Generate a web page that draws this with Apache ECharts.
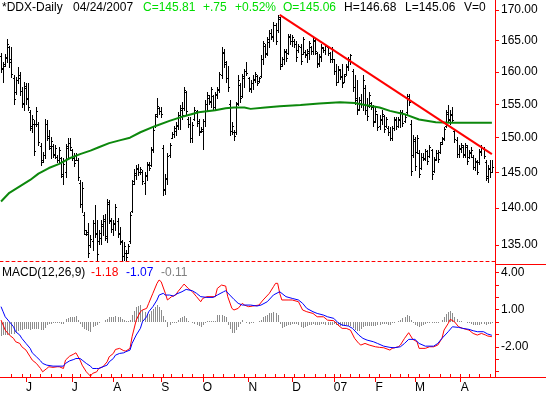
<!DOCTYPE html>
<html><head><meta charset="utf-8">
<script src="https://cdn.jsdelivr.net/npm/echarts@6/dist/echarts.min.js"></script>
<style>html,body{margin:0;padding:0;background:#fff;}#c{width:546px;height:394px;}</style>
</head><body><div id="c"></div>
<script>
// ---- data ----
const symbol = '*DDX-Daily';
const monthKeys = ['2006-05','2006-06','2006-07','2006-08','2006-09','2006-10','2006-11','2006-12','2007-01','2007-02','2007-03','2007-04'];
const monthDays = [
[15,16,17,18,19,22,23,24,25,26,30,31],
[1,2,5,6,7,8,9,12,13,14,15,16,19,20,21,22,23,26,27,28,29,30],
[3,5,6,7,10,11,12,13,14,17,18,19,20,21,24,25,26,27,28,31],
[1,2,3,4,7,8,9,10,11,14,15,16,17,18,21,22,23,24,25,28,29,30,31],
[1,5,6,7,8,11,12,13,14,15,18,19,20,21,22,25,26,27,28,29],
[2,3,4,5,6,9,10,11,12,13,16,17,18,19,20,23,24,25,26,27,30,31],
[1,2,3,6,7,8,9,10,13,14,15,16,17,20,21,22,24,27,28,29,30],
[1,4,5,6,7,8,11,12,13,14,15,18,19,20,21,22,26,27,28,29],
[3,4,5,8,9,10,11,12,16,17,18,19,22,23,24,25,26,29,30,31],
[1,2,5,6,7,8,9,12,13,14,15,16,20,21,22,23,26,27,28],
[1,2,5,6,7,8,9,12,13,14,15,16,19,20,21,22,23,26,27,28,29,30],
[2,3,4,5,9,10,11,12,13,16,17,18,19,20,23,24]
];
const opens = [
162.5,160.5,161.2,162.2,164.0,162.0,159.0,156.8,158.8,159.5,
157.0,155.0,157.5,156.0,153.8,151.5,152.0,152.0,152.0,148.8,
146.7,147.5,152.0,150.2,148.5,148.8,147.5,147.2,146.8,147.0,
144.5,145.0,148.5,149.2,148.2,147.0,146.8,146.8,143.5,140.5,
139.0,136.5,136.5,135.0,135.5,138.0,136.5,135.5,136.0,137.5,
138.5,136.0,140.5,138.2,137.2,137.8,138.2,136.6,135.4,133.6,
134.0,134.0,135.5,139.6,143.8,144.6,145.4,145.0,145.0,143.5,
144.4,146.0,146.0,148.2,151.8,153.5,154.4,154.0,148.5,142.6,
144.0,147.5,150.0,150.5,151.0,151.8,153.0,154.2,154.5,156.8,
152.8,152.0,150.0,152.8,154.0,152.4,151.0,151.0,152.4,155.0,
156.0,155.4,156.2,154.6,156.4,157.2,159.5,163.0,161.3,159.0,
155.0,151.0,150.8,150.8,155.2,158.0,156.3,159.0,160.2,159.0,
157.3,158.3,158.8,159.3,158.6,159.4,162.0,164.2,163.0,164.8,
166.2,165.6,167.5,166.8,168.5,161.2,162.0,163.2,163.0,165.5,
165.0,165.0,164.5,163.4,164.0,162.8,163.2,162.6,163.0,164.0,
163.3,165.0,163.0,161.4,162.4,163.8,163.4,164.0,163.0,162.0,
162.0,160.2,158.5,160.3,159.2,158.5,159.6,160.8,162.0,160.2,
157.6,156.0,154.3,155.6,155.0,157.5,154.2,154.8,155.2,154.6,
152.5,153.5,151.8,152.6,153.2,151.8,151.5,150.8,150.0,151.4,
152.6,151.8,152.6,153.8,152.4,153.8,156.0,152.0,147.5,149.5,
147.9,147.8,145.6,147.2,146.9,148.0,147.3,148.2,145.2,146.9,
147.8,147.9,149.3,149.8,151.8,153.6,152.6,153.4,151.0,149.6,
147.6,148.4,148.6,147.6,148.6,147.2,147.8,147.2,145.8,146.4,
146.4,147.9,148.4,146.5,144.2,145.4,145.06];
const highs = [
163.0,161.6,162.8,165.2,164.2,164.0,159.5,159.2,160.8,160.0,
157.7,158.4,158.2,158.2,154.1,153.3,152.6,154.6,152.3,149.2,
147.9,152.8,152.6,151.1,150.1,149.1,148.9,147.4,148.6,147.2,
147.0,149.1,149.9,149.9,148.4,147.7,147.7,147.0,143.9,143.6,
139.5,137.0,137.9,136.3,138.3,140.4,138.3,137.0,138.3,139.0,
139.2,141.3,141.1,138.6,138.3,140.6,138.6,137.4,135.7,135.4,
134.3,135.2,139.4,143.9,145.5,146.0,146.2,145.8,145.3,145.0,
146.5,146.5,148.6,151.6,153.6,155.9,154.6,154.6,148.9,144.8,
147.7,149.2,150.9,151.8,152.3,153.8,154.9,155.4,157.7,157.1,
153.1,153.1,152.3,154.6,154.1,152.8,151.6,152.8,155.6,156.9,
156.4,157.7,156.4,156.9,157.7,160.0,164.0,163.7,161.8,161.0,
155.6,152.3,151.1,155.4,159.5,158.2,159.7,160.5,161.6,159.2,
158.7,159.5,160.0,159.5,159.2,162.6,165.0,164.5,165.6,166.7,
166.9,168.0,167.8,169.2,168.9,162.4,163.7,163.7,166.1,166.1,
165.9,165.3,165.0,164.5,164.5,165.6,163.4,163.7,165.0,164.2,
165.6,165.3,163.2,162.9,164.5,164.0,164.5,164.0,163.2,164.0,
162.1,161.3,161.0,160.5,161.3,159.7,161.3,162.4,162.9,160.5,
159.5,158.7,156.1,156.6,159.5,157.9,155.9,156.9,155.4,154.9,
154.6,153.6,153.3,154.1,153.3,153.1,151.8,151.6,151.8,153.1,
153.1,153.1,154.1,154.1,153.3,156.6,156.6,152.6,150.4,150.1,
150.4,148.2,147.7,147.7,148.4,148.2,148.9,148.4,147.2,148.2,
148.2,149.4,150.1,151.6,154.1,154.9,154.1,154.6,151.3,150.1,
148.9,149.2,148.9,149.2,148.9,148.2,148.6,147.4,147.0,146.7,
148.4,148.9,148.6,146.7,146.0,146.7,146.68];
const lows = [
160.0,158.4,160.9,161.6,160.8,159.2,155.1,156.6,158.2,156.4,
154.6,154.1,155.1,154.1,151.1,150.9,147.4,151.8,148.9,146.0,
146.5,147.0,149.6,148.4,147.0,147.2,147.0,146.5,146.5,144.3,
143.3,144.3,147.0,148.2,146.7,145.9,146.7,143.9,140.2,139.5,
136.5,136.3,133.4,134.8,134.3,136.1,133.0,135.2,135.2,136.3,
135.7,135.4,137.9,136.8,136.3,137.0,136.1,135.2,133.0,133.0,
133.0,133.9,135.3,139.4,143.4,144.1,144.6,144.8,143.4,142.0,
143.9,145.3,145.9,147.9,151.6,153.1,153.6,153.1,141.8,142.0,
143.4,147.2,149.9,150.1,150.4,151.3,151.3,152.8,154.1,153.6,
151.6,149.4,149.4,152.6,151.8,150.4,150.9,148.4,151.8,154.1,
155.1,154.6,154.1,154.1,155.9,156.9,159.0,160.8,158.4,157.1,
150.4,150.6,149.6,150.6,154.9,155.4,156.1,157.7,159.5,157.1,
156.9,157.4,158.4,157.9,158.4,159.2,161.3,162.4,162.6,164.0,
165.3,165.0,164.5,166.4,160.5,161.0,161.3,161.8,162.9,164.5,
164.2,164.0,161.8,163.2,161.3,162.9,162.4,161.6,162.1,162.9,
162.9,162.9,160.8,161.0,161.8,163.2,162.9,162.6,161.6,161.6,
159.7,157.9,158.4,158.9,157.7,158.4,159.5,160.3,161.3,157.1,
155.1,153.6,154.1,154.6,154.1,153.6,152.6,154.6,154.3,151.8,
152.3,151.1,151.3,152.1,150.9,151.6,150.4,149.6,149.6,151.1,
151.3,151.6,151.6,151.8,152.3,153.6,154.9,144.6,147.2,145.3,
147.7,144.3,145.5,146.7,146.7,146.2,147.2,144.1,145.0,146.7,
146.5,147.7,149.1,149.6,151.6,152.3,152.1,152.3,149.4,147.2,
147.2,147.9,147.2,147.2,146.2,147.0,147.2,145.5,145.3,144.8,
146.2,147.4,147.0,143.9,143.6,144.3,145.06];
const closes = [
160.6,161.0,162.4,164.5,161.5,159.6,155.8,158.8,159.0,157.0,
155.2,157.8,155.8,154.6,151.8,152.8,148.0,154.0,149.3,146.4,
147.5,152.0,150.0,148.8,149.5,147.6,148.5,146.8,148.2,144.8,
146.2,148.8,149.2,148.6,147.0,146.3,147.4,144.3,140.6,142.8,
137.0,136.8,134.0,135.8,137.9,136.6,133.8,136.6,137.8,138.2,
136.2,140.8,138.3,137.2,137.9,140.1,136.5,135.6,133.5,134.9,
133.4,134.9,139.0,143.4,144.9,145.6,145.0,145.5,143.8,144.6,
146.2,145.6,148.3,151.2,153.2,154.8,154.0,153.5,142.5,144.2,
147.3,148.9,150.6,151.4,151.9,153.4,154.4,153.4,157.2,154.0,
152.0,149.9,151.9,154.2,152.2,150.9,151.3,152.4,155.0,156.4,
155.5,157.3,154.6,156.5,157.3,159.7,163.2,161.5,159.0,157.6,
151.0,151.8,150.3,155.0,158.8,155.9,159.3,160.2,159.9,157.5,
158.3,158.9,159.6,158.3,159.0,162.0,164.6,162.8,165.2,166.3,
165.7,167.6,165.0,168.8,161.0,162.0,163.3,162.2,165.7,164.9,
165.5,164.4,162.3,164.2,161.8,165.2,162.8,163.3,164.6,163.3,
165.1,163.3,161.3,162.5,164.0,163.5,164.1,163.0,162.0,163.6,
160.2,158.4,160.5,159.3,158.2,159.3,160.9,162.0,162.6,157.6,
155.6,154.2,155.7,155.0,158.8,154.2,153.2,156.4,154.6,152.3,
154.0,151.6,152.8,153.6,151.3,152.7,150.8,150.0,151.4,152.7,
151.7,152.8,153.7,152.2,153.0,156.2,155.3,145.2,149.8,145.9,
149.9,144.8,147.2,147.0,148.0,146.6,148.6,144.8,146.8,147.8,
146.9,149.1,149.9,151.3,153.8,152.8,153.6,152.6,149.8,147.6,
148.5,148.9,147.5,148.9,146.6,147.9,148.2,145.8,146.6,145.1,
148.0,148.5,147.3,144.4,145.6,145.06,145.81];
// moving average read at points [bar index, value]
const maPoints = [[0,140.9],[4,142.1],[9,143.0],[14,143.9],[18,144.8],[23,145.6],[28,146.2],[33,147.0],[38,147.6],[43,148.1],[47,148.6],[52,149.2],[57,149.6],[62,150.0],[67,150.8],[74,151.7],[81,152.5],[88,153.2],[95,153.8],[103,154.1],[108,154.4],[112,154.5],[117,154.5],[120,154.3],[127,154.5],[134,154.7],[144,154.9],[153,155.1],[163,155.3],[170,155.2],[175,154.9],[182,154.5],[187,154.0],[194,153.5],[201,152.7],[209,152.3],[216,152.2],[226,152.2],[236,152.2]];
const trendPoints = [[134,169.2],[236,147.6]];
const macdPoints = [[0,0.16],[1,-0.24],[2,-0.65],[4,-1.05],[6,-1.32],[7,-1.59],[9,-1.73],[10,-2.0],[12,-2.27],[14,-2.81],[15,-3.08],[17,-3.35],[19,-3.76],[20,-4.03],[22,-3.76],[23,-3.62],[25,-3.67],[27,-3.62],[28,-3.62],[30,-3.76],[31,-3.08],[33,-2.76],[35,-2.59],[36,-2.49],[38,-3.08],[39,-3.49],[41,-4.03],[43,-4.38],[44,-4.16],[46,-4.03],[47,-3.76],[49,-3.62],[51,-3.22],[52,-2.81],[54,-2.54],[55,-2.22],[57,-2.13],[59,-2.32],[60,-2.35],[62,-2.13],[63,-1.19],[65,0.16],[67,0.84],[68,0.98],[70,1.11],[71,1.52],[73,2.33],[75,3.14],[76,3.41],[77,3.27],[79,2.33],[80,1.79],[82,2.06],[84,2.19],[85,2.46],[87,2.87],[88,3.08],[90,2.73],[92,2.46],[94,2.06],[96,1.65],[97,1.92],[99,2.06],[100,2.06],[103,2.06],[104,2.73],[106,3.0],[108,2.92],[109,2.06],[111,1.11],[112,0.98],[114,1.11],[116,1.52],[117,1.38],[119,1.25],[121,1.30],[124,1.38],[126,1.79],[129,2.33],[131,2.87],[132,3.14],[133,3.14],[134,2.33],[135,1.79],[138,1.79],[140,1.79],[143,1.65],[145,0.98],[147,0.84],[150,0.70],[152,0.43],[155,0.43],[157,0.16],[160,0.11],[162,-0.24],[164,-0.51],[166,-0.51],[168,-0.65],[170,-1.32],[172,-1.73],[173,-1.86],[175,-1.73],[177,-1.86],[180,-2.0],[182,-2.05],[184,-2.08],[187,-2.27],[188,-2.13],[191,-2.0],[192,-1.86],[194,-1.32],[196,-0.86],[198,-1.40],[200,-1.59],[201,-2.13],[204,-2.13],[206,-2.0],[208,-2.0],[210,-1.86],[212,-1.32],[213,-0.65],[215,-0.11],[216,0.22],[218,0.03],[220,-0.38],[222,-0.51],[225,-0.65],[227,-0.92],[229,-1.05],[231,-0.92],[233,-1.05],[234,-1.13],[236,-1.18]];
const signalPoints = [[0,1.25],[1,0.84],[2,0.43],[4,0.03],[6,-0.38],[7,-0.78],[9,-1.05],[10,-1.32],[12,-1.73],[14,-2.13],[15,-2.49],[17,-2.81],[19,-3.14],[20,-3.35],[22,-3.49],[25,-3.57],[30,-3.57],[31,-3.35],[33,-3.14],[35,-3.03],[36,-2.95],[38,-2.95],[39,-3.08],[41,-3.35],[43,-3.57],[44,-3.76],[46,-3.76],[47,-3.76],[49,-3.62],[51,-3.49],[52,-3.22],[54,-2.95],[55,-2.68],[57,-2.54],[59,-2.49],[60,-2.40],[62,-2.27],[63,-1.73],[65,-1.05],[67,-0.51],[68,0.03],[70,0.43],[71,0.84],[73,1.25],[75,1.79],[76,2.19],[78,2.33],[79,2.19],[81,2.19],[83,2.11],[84,2.25],[87,2.46],[89,2.65],[92,2.54],[94,2.33],[96,2.06],[99,2.0],[102,2.0],[104,2.19],[107,2.46],[108,2.54],[110,2.19],[112,1.84],[114,1.52],[116,1.38],[120,1.38],[123,1.30],[125,1.38],[128,1.65],[131,2.2],[134,2.46],[137,2.06],[140,1.92],[143,1.79],[145,1.52],[147,1.11],[150,0.84],[152,0.70],[155,0.57],[157,0.43],[160,0.30],[162,-0.05],[164,-0.24],[167,-0.32],[169,-0.51],[172,-1.05],[174,-1.32],[176,-1.46],[179,-1.59],[181,-1.73],[184,-1.95],[187,-2.05],[189,-2.08],[192,-2.0],[194,-1.73],[196,-1.40],[199,-1.40],[201,-1.73],[204,-1.95],[208,-1.95],[210,-1.73],[212,-1.32],[215,-0.78],[217,-0.38],[220,-0.43],[222,-0.51],[225,-0.59],[227,-0.70],[229,-0.78],[232,-0.78],[234,-0.97],[236,-1.07]];
const histValues = [
-1.10,-1.08,-1.08,-1.08,-1.08,-1.0,-0.94,-0.81,-0.72,-0.68,
-0.68,-0.6,-0.54,-0.6,-0.68,-0.59,-0.56,-0.54,-0.58,-0.62,
-0.68,-0.45,-0.27,-0.15,-0.12,-0.1,-0.06,-0.05,-0.05,-0.12,
-0.19,0.27,0.33,0.38,0.42,0.44,0.46,0.15,-0.13,-0.41,
-0.55,-0.68,-0.75,-0.81,-0.4,-0.33,-0.27,-0.05,0,0,
0.15,0.27,0.41,0.41,0.41,0.46,0.44,0.41,0.28,0.17,
0.05,0.1,0.14,0.54,0.9,1.21,1.3,1.35,0.95,0.8,
0.68,0.68,0.9,1.08,1.2,1.35,1.22,1.0,0.5,0.14,
-0.4,-0.25,-0.1,-0.08,-0.06,0.2,0.3,0.41,0.5,0.3,
0.1,0,-0.08,-0.18,-0.27,-0.35,-0.41,-0.2,-0.05,0.06,
0.06,0.06,0.06,0.06,0.54,0.58,0.6,0.5,0.38,-0.2,
-0.6,-0.9,-0.86,-0.65,-0.41,-0.15,0.14,0,-0.07,-0.13,
-0.1,-0.08,-0.03,0.02,0.05,0.2,0.4,0.5,0.6,0.7,
0.75,0.8,0.75,0.6,-0.13,-0.45,-0.4,-0.3,-0.25,-0.2,
-0.15,-0.15,-0.15,-0.2,-0.4,-0.5,-0.4,-0.3,-0.25,-0.2,
-0.15,-0.2,-0.27,-0.2,-0.15,-0.15,-0.2,-0.27,-0.25,-0.2,
-0.19,-0.2,-0.25,-0.3,-0.35,-0.3,-0.25,-0.3,-0.35,-0.5,
-0.65,-0.75,-0.7,-0.6,-0.4,-0.3,-0.3,-0.35,-0.35,-0.35,
-0.3,-0.25,-0.2,-0.15,-0.13,-0.15,-0.2,-0.2,-0.1,-0.05,
0,0.05,0.15,0.3,0.45,0.55,0.5,0.2,-0.1,-0.25,
-0.35,-0.4,-0.3,-0.25,-0.18,-0.1,-0.05,-0.05,-0.05,-0.1,
-0.1,0,0.2,0.45,0.65,0.8,0.9,0.7,0.45,0.25,
0.1,0.05,0,-0.03,-0.05,-0.08,-0.15,-0.22,-0.25,-0.27,
-0.2,-0.14,-0.17,-0.2,-0.16,-0.13,-0.11];
const priceTicks = [135,140,145,150,155,160,165,170];
const macdTicks = [-4,-3,-2,-1,0,1,2,3,4];
const macdLabelValues = [4,1,-2];
const monthLetters = ['J','F','M','A','M','J','J','A','S','O','N','D'];

// ---- build ----
const dates = [];
monthKeys.forEach((k, mi) => monthDays[mi].forEach(d => dates.push(k + '-' + String(d).padStart(2, '0'))));
const categories = dates.concat(['']);
const monthStart = new Set(), weekStart = new Set();
for (let i = 1; i < dates.length; i++) {
  if (dates[i].slice(0, 7) !== dates[i - 1].slice(0, 7)) monthStart.add(i);
  const a = new Date(dates[i - 1] + 'T00:00:00Z'), b = new Date(dates[i] + 'T00:00:00Z');
  if (b.getUTCDay() <= a.getUTCDay() || (b - a) >= 7 * 864e5) weekStart.add(i);
}
const ohlc = dates.map((d, i) => [i, opens[i], highs[i], lows[i], closes[i]]);
const hist = histValues.map((v, i) => [i, v]);

const last = dates.length - 1;
const chg = closes[last] - closes[last - 1];
const sgn = chg >= 0 ? '+' : '-';
const chgText = sgn + Math.abs(chg).toFixed(2).replace(/^0/, '');
const pctText = sgn + Math.abs(chg / closes[last - 1] * 100).toFixed(2) + '%';
const ld = dates[last].split('-');
const dateText = ld[1] + '/' + ld[2] + '/' + ld[0];

const FONT = '"Liberation Sans", Arial, sans-serif';
const RED = '#ff0000';
const GREEN_TXT = '#00dd00';

function txt(text, x, y, fill) {
  return { type: 'text', x: x, y: y, silent: true,
    style: { text: text, fill: fill, fontSize: 12, fontFamily: FONT, verticalAlign: 'middle' } };
}

const chart = echarts.init(document.getElementById('c'), null, { renderer: 'canvas' });
chart.setOption({
  animation: false,
  backgroundColor: '#ffffff',
  textStyle: { fontFamily: FONT },
  grid: [
    { left: 0, top: 0, width: 495, height: 261 },
    { left: 0, top: 261, width: 495, height: 116 }
  ],
  xAxis: [
    { type: 'category', gridIndex: 0, data: categories, boundaryGap: true, position: 'bottom',
      axisLine: { onZero: false, lineStyle: { color: RED, width: 1, type: [3, 3] } },
      axisTick: { show: false }, axisLabel: { show: false }, splitLine: { show: false } },
    { type: 'category', gridIndex: 1, data: categories, boundaryGap: true, position: 'bottom',
      axisLine: { onZero: false, lineStyle: { color: RED, width: 1 } },
      axisTick: { show: true, alignWithLabel: true, length: 5, lineStyle: { color: RED },
        interval: (i) => monthStart.has(i) },
      axisLabel: { show: true, interval: (i) => monthStart.has(i), align: 'left', margin: 5,
        color: '#000', fontSize: 12, fontFamily: FONT,
        formatter: (v) => { if (!v) return ''; const m = +v.slice(5, 7) - 1; return m === 0 ? v.slice(2, 4) : monthLetters[m]; } },
      splitLine: { show: false } },
    { type: 'category', gridIndex: 1, data: categories, boundaryGap: true, position: 'bottom',
      axisLine: { show: false, onZero: false },
      axisTick: { show: true, inside: true, alignWithLabel: true, length: 3, lineStyle: { color: RED },
        interval: (i) => weekStart.has(i) },
      axisLabel: { show: false }, splitLine: { show: false } }
  ],
  yAxis: [
    { type: 'log', gridIndex: 0, position: 'right', min: 132.9, max: 171.7,
      axisLine: { show: true, onZero: false, lineStyle: { color: RED } },
      axisTick: { show: true, length: 4, lineStyle: { color: RED }, customValues: priceTicks },
      axisLabel: { show: true, customValues: priceTicks, margin: 6, color: '#000', fontSize: 12, fontFamily: FONT,
        formatter: (v) => Number(v).toFixed(2) },
      splitLine: { show: false } },
    { type: 'value', gridIndex: 1, position: 'right', min: -4.45, max: 4.95,
      axisLine: { show: true, onZero: false, lineStyle: { color: RED } },
      axisTick: { show: true, length: 4, lineStyle: { color: RED }, customValues: macdTicks },
      axisLabel: { show: true, customValues: macdLabelValues, margin: 6, color: '#000', fontSize: 12, fontFamily: FONT,
        formatter: (v) => Number(v).toFixed(2) },
      splitLine: { show: false } }
  ],
  series: [
    { type: 'custom', name: 'DDX', xAxisIndex: 0, yAxisIndex: 0, silent: true, clip: true,
      encode: { x: 0, y: [1, 2, 3, 4] }, data: ohlc,
      renderItem: function (params, api) {
        const i = api.value(0);
        const pO = api.coord([i, api.value(1)]);
        const pH = api.coord([i, api.value(2)]);
        const pL = api.coord([i, api.value(3)]);
        const pC = api.coord([i, api.value(4)]);
        const xi = Math.round(pH[0]);
        const xc = xi + 0.5;
        const yo = Math.round(pO[1]) + 0.5, yc = Math.round(pC[1]) + 0.5;
        return { type: 'group', children: [
          { type: 'line', shape: { x1: xc, y1: Math.round(pH[1]), x2: xc, y2: Math.round(pL[1]) + 1 }, style: { stroke: '#000', lineWidth: 1 } },
          { type: 'line', shape: { x1: xi - 1, y1: yo, x2: xi, y2: yo }, style: { stroke: '#000', lineWidth: 1 } },
          { type: 'line', shape: { x1: xi + 1, y1: yc, x2: xi + 2, y2: yc }, style: { stroke: '#000', lineWidth: 1 } }
        ] };
      } },
    { type: 'line', name: 'MA', xAxisIndex: 0, yAxisIndex: 0, data: maPoints, showSymbol: false, silent: true,
      lineStyle: { color: '#0c880c', width: 2 }, z: 3 },
    { type: 'line', name: 'Trend', xAxisIndex: 0, yAxisIndex: 0, data: trendPoints, showSymbol: false, silent: true,
      lineStyle: { color: RED, width: 2 }, z: 4 },
    { type: 'custom', name: 'Hist', xAxisIndex: 1, yAxisIndex: 1, silent: true, clip: true,
      encode: { x: 0, y: 1 }, data: hist,
      renderItem: function (params, api) {
        const i = api.value(0);
        const p0 = api.coord([i, 0]);
        const p1 = api.coord([i, api.value(1)]);
        const xc = Math.round(p0[0]) + 0.5;
        return { type: 'line', shape: { x1: xc, y1: Math.round(p0[1]), x2: xc, y2: Math.round(p1[1]) },
          style: { stroke: '#8c8c8c', lineWidth: 1 } };
      } },
    { type: 'line', name: 'MACD', xAxisIndex: 1, yAxisIndex: 1, data: macdPoints, showSymbol: false, silent: true,
      lineStyle: { color: RED, width: 1 }, z: 4 },
    { type: 'line', name: 'Signal', xAxisIndex: 1, yAxisIndex: 1, data: signalPoints, showSymbol: false, silent: true,
      lineStyle: { color: '#0000ff', width: 1 }, z: 5 }
  ],
  graphic: [
    txt(symbol, 2, 8, '#000'),
    txt(dateText, 73, 8, '#000'),
    txt('C=' + closes[last].toFixed(2), 143, 8, GREEN_TXT),
    txt(chgText, 203, 8, GREEN_TXT),
    txt(pctText, 235, 8, GREEN_TXT),
    txt('O=' + opens[last].toFixed(2), 283, 8, GREEN_TXT),
    txt('H=' + highs[last].toFixed(2), 344, 8, '#000'),
    txt('L=' + lows[last].toFixed(2), 405, 8, '#000'),
    txt('V=0', 464, 8, '#000'),
    txt('MACD(12,26,9)', 2, 273, '#000'),
    txt(macdPoints[macdPoints.length - 1][1].toFixed(2), 91, 273, RED),
    txt(signalPoints[signalPoints.length - 1][1].toFixed(2), 126, 273, '#0000ff'),
    txt(histValues[histValues.length - 1].toFixed(2), 161, 273, '#808080'),
    { type: 'line', silent: true, shape: { x1: 495, y1: 264.5, x2: 546, y2: 264.5 }, style: { stroke: RED, lineWidth: 1 } },
    { type: 'line', silent: true, shape: { x1: 495, y1: 377.5, x2: 546, y2: 377.5 }, style: { stroke: RED, lineWidth: 1 } }
  ]
});
</script>
</body></html>
